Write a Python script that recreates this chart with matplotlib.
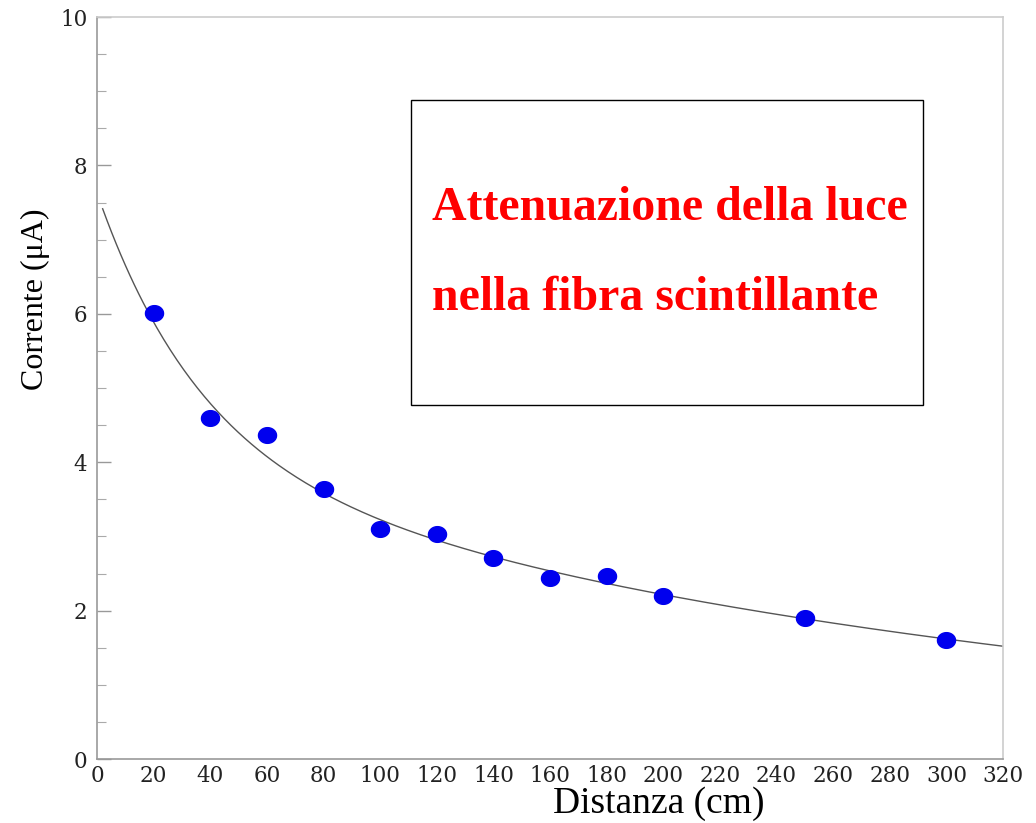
import numpy as np
import matplotlib.pyplot as plt
from matplotlib.patches import Rectangle
from matplotlib.path import Path
import matplotlib.ticker as ticker

plt.rcParams['font.family'] = 'DejaVu Serif'

# measured points
distanza = [20, 40, 60, 80, 100, 120, 140, 160, 180, 200, 250, 300]
corrente = [6.01, 4.60, 4.37, 3.64, 3.10, 3.03, 2.71, 2.44, 2.47, 2.20, 1.90, 1.60]

# fit: two exponentials (short + long attenuation length)
fit_a1, fit_l1 = 3.55, 36.5
fit_a2, fit_l2 = 4.08, 324.0
fit_range = (2, 320)

titolo = ["Attenuazione della luce", "nella fibra scintillante"]

x_fit = np.linspace(fit_range[0], fit_range[1], 400)
y_fit = fit_a1 * np.exp(-x_fit / fit_l1) + fit_a2 * np.exp(-x_fit / fit_l2)

fig = plt.figure(figsize=(10.36, 8.23), dpi=100)
ax = fig.add_axes([97/1036, 64/823, 906/1036, 742/823])

ax.plot(x_fit, y_fit, color='#555555', lw=1.0, zorder=2)

# slightly wide ellipse marker
t = np.linspace(0, 2*np.pi, 60)
ell = Path(np.column_stack([1.15*np.cos(t), np.sin(t)]), closed=True)
ax.plot(distanza, corrente, ls='none', marker=ell, ms=13, color='#0000ee',
        mec='#0000ee', zorder=3)

ax.set_xlim(0, 320)
ax.set_ylim(0, 10)
ax.xaxis.set_major_locator(ticker.MultipleLocator(20))
ax.yaxis.set_major_locator(ticker.MultipleLocator(2))
ax.yaxis.set_minor_locator(ticker.MultipleLocator(0.5))

ax.tick_params(axis='y', which='major', direction='in', length=10, width=1,
               color='#999999', pad=7, labelsize=15.5, labelcolor='#222222')
ax.tick_params(axis='y', which='minor', direction='in', length=6.5, width=0.8,
               color='#aaaaaa')
ax.tick_params(axis='x', which='both', length=0, pad=4, labelsize=15.5,
               labelcolor='#222222')

ax.spines['left'].set_color('#999999')
ax.spines['bottom'].set_color('#999999')
ax.spines['top'].set_color('#cccccc')
ax.spines['right'].set_color('#cccccc')
for s in ax.spines.values():
    s.set_linewidth(1.2)

ax.set_xlabel('Distanza (cm)', family='Liberation Serif', fontsize=27)
ax.set_ylabel('Corrente (μA)', family='Liberation Serif', fontsize=23)
ax.xaxis.set_label_coords(0.620, -0.037)
ax.yaxis.set_label_coords(-0.052, 0.62)

ax.add_patch(Rectangle((0.3466, 0.477), 0.565, 0.411, transform=ax.transAxes,
                       fill=False, ec='black', lw=1.0, zorder=4))
ax.text(0.3698, 0.7264, titolo[0], transform=ax.transAxes, color='red',
        family='Liberation Serif', weight='bold', fontsize=34.5, va='baseline')
ax.text(0.3698, 0.6051, titolo[1], transform=ax.transAxes, color='red',
        family='Liberation Serif', weight='bold', fontsize=34.5, va='baseline')

fig.savefig('out.png', dpi=100)
